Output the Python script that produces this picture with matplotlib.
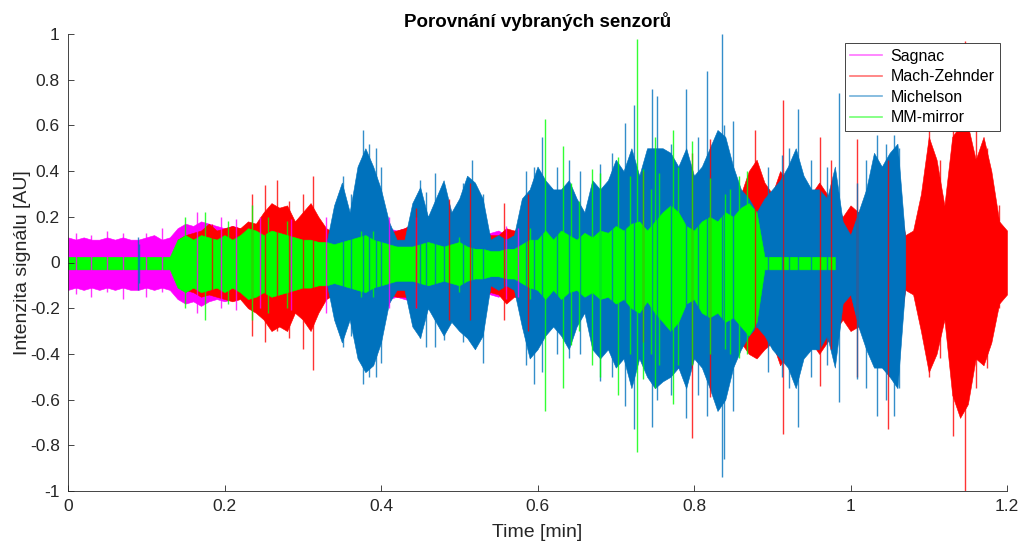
import numpy as np
import matplotlib
matplotlib.use("Agg")
import matplotlib.pyplot as plt
from matplotlib.lines import Line2D

plt.rcParams['font.family'] = ['Liberation Sans', 'DejaVu Sans']

# ---------------- data (envelopes, step 0.01 min) ----------------
series_names = ["Sagnac", "Mach-Zehnder", "Michelson", "MM-mirror"]
series_colors = ["#FF00FF", "#FF0000", "#0072BD", "#00FF00"]

# Sagnac: 0.00 .. 0.58
sagnac_start = 0.00
sagnac_top = [0.11, 0.10, 0.11, 0.10, 0.10, 0.11, 0.10, 0.11, 0.10, 0.10, 0.11, 0.12, 0.10, 0.11,
              0.15, 0.17, 0.16, 0.18, 0.17, 0.16, 0.15, 0.16, 0.15, 0.14, 0.15, 0.16, 0.17, 0.15, 0.14, 0.13, 0.14,
              0.14, 0.15, 0.13, 0.14, 0.15, 0.14, 0.13, 0.14, 0.15, 0.16, 0.15, 0.14, 0.15, 0.16, 0.17, 0.15,
              0.14, 0.13, 0.14, 0.13, 0.12, 0.13, 0.12, 0.13, 0.14, 0.12, 0.13, 0.12]
sagnac_bot = [-0.12, -0.11, -0.12, -0.11, -0.12, -0.11, -0.12, -0.11, -0.12, -0.12, -0.11, -0.12, -0.11, -0.12,
              -0.16, -0.18, -0.17, -0.19, -0.17, -0.16, -0.17, -0.16, -0.15, -0.16, -0.15, -0.17, -0.16, -0.15, -0.16, -0.15, -0.14,
              -0.15, -0.16, -0.14, -0.15, -0.16, -0.15, -0.14, -0.15, -0.16, -0.17, -0.16, -0.15, -0.16, -0.17, -0.18, -0.16,
              -0.15, -0.14, -0.15, -0.14, -0.13, -0.14, -0.13, -0.14, -0.15, -0.13, -0.14, -0.13]

# Mach-Zehnder: 0.14 .. 1.20
mz_start = 0.14
mz_top = [0.10, 0.12, 0.13, 0.14, 0.17, 0.14, 0.15, 0.16, 0.15, 0.18,
          0.17, 0.22, 0.26, 0.24, 0.25, 0.18, 0.22, 0.26, 0.20, 0.15,
          0.13, 0.12, 0.12, 0.12, 0.12, 0.13, 0.12, 0.13, 0.14, 0.15,
          0.17, 0.16, 0.15, 0.17, 0.20, 0.22, 0.18, 0.20, 0.18, 0.15,
          0.12, 0.12, 0.15, 0.14, 0.15, 0.18, 0.15, 0.14, 0.16, 0.18,
          0.20, 0.22, 0.20, 0.18, 0.20, 0.22, 0.20, 0.22, 0.25, 0.30,
          0.25, 0.22, 0.20, 0.22, 0.25, 0.30, 0.32, 0.28, 0.35, 0.30,
          0.25, 0.25, 0.30, 0.40, 0.45, 0.35, 0.30, 0.40, 0.35, 0.30,
          0.28, 0.30, 0.35, 0.30, 0.25, 0.20, 0.25, 0.22, 0.25, 0.30,
          0.35, 0.40, 0.30, 0.12, 0.14, 0.30, 0.55, 0.45, 0.25, 0.55,
          0.60, 0.60, 0.45, 0.55, 0.40, 0.18, 0.14]
mz_bot = [-0.10, -0.12, -0.13, -0.15, -0.14, -0.15, -0.16, -0.17, -0.16, -0.20,
          -0.22, -0.25, -0.30, -0.28, -0.30, -0.22, -0.25, -0.30, -0.22, -0.16,
          -0.14, -0.13, -0.13, -0.13, -0.13, -0.14, -0.13, -0.14, -0.15, -0.15,
          -0.16, -0.15, -0.15, -0.16, -0.17, -0.20, -0.18, -0.20, -0.18, -0.15,
          -0.13, -0.14, -0.18, -0.15, -0.16, -0.20, -0.16, -0.15, -0.18, -0.20,
          -0.22, -0.24, -0.22, -0.20, -0.22, -0.25, -0.22, -0.25, -0.28, -0.32,
          -0.28, -0.25, -0.22, -0.25, -0.30, -0.35, -0.38, -0.32, -0.40, -0.35,
          -0.30, -0.30, -0.35, -0.40, -0.42, -0.38, -0.35, -0.45, -0.40, -0.35,
          -0.32, -0.35, -0.40, -0.35, -0.30, -0.25, -0.30, -0.28, -0.32, -0.38,
          -0.45, -0.50, -0.35, -0.12, -0.14, -0.30, -0.48, -0.40, -0.25, -0.58,
          -0.68, -0.62, -0.42, -0.45, -0.35, -0.18, -0.14]

# Michelson: 0.33 .. 1.07
mi_start = 0.33
mi_top = [0.08, 0.25, 0.35, 0.22, 0.42, 0.50, 0.42, 0.32, 0.18, 0.10,
          0.10, 0.26, 0.33, 0.20, 0.28, 0.36, 0.22, 0.28, 0.38, 0.35,
          0.28, 0.10, 0.12, 0.10, 0.12, 0.28, 0.32, 0.42, 0.36, 0.32,
          0.32, 0.36, 0.28, 0.22, 0.36, 0.32, 0.36, 0.45, 0.40, 0.50,
          0.38, 0.50, 0.50, 0.50, 0.48, 0.42, 0.50, 0.38, 0.42, 0.50,
          0.58, 0.55, 0.42, 0.32, 0.28, 0.22, 0.28, 0.32, 0.36, 0.42,
          0.50, 0.38, 0.32, 0.32, 0.28, 0.42, 0.18, 0.12, 0.22, 0.32,
          0.48, 0.42, 0.48, 0.52, 0.10]
mi_bot = [-0.08, -0.25, -0.35, -0.25, -0.42, -0.48, -0.45, -0.35, -0.18, -0.12,
          -0.12, -0.28, -0.33, -0.20, -0.26, -0.32, -0.26, -0.30, -0.33, -0.38,
          -0.32, -0.10, -0.12, -0.10, -0.12, -0.28, -0.42, -0.38, -0.32, -0.28,
          -0.32, -0.38, -0.28, -0.22, -0.38, -0.42, -0.38, -0.46, -0.42, -0.55,
          -0.42, -0.50, -0.55, -0.52, -0.50, -0.46, -0.55, -0.42, -0.46, -0.55,
          -0.65, -0.60, -0.46, -0.38, -0.32, -0.28, -0.32, -0.38, -0.42, -0.46,
          -0.55, -0.42, -0.38, -0.38, -0.32, -0.46, -0.18, -0.14, -0.28, -0.38,
          -0.46, -0.46, -0.50, -0.55, -0.10]

# MM-mirror: 0.00 .. 0.98
mm_start = 0.00
mm_top = [0.025] * 14 + [
          0.10, 0.12, 0.10, 0.12, 0.11, 0.10, 0.12, 0.10, 0.12, 0.15,
          0.14, 0.12, 0.14, 0.13, 0.12, 0.11, 0.10, 0.10, 0.09, 0.09,
          0.08, 0.09, 0.10, 0.11, 0.12, 0.10, 0.09, 0.08, 0.07, 0.07,
          0.07, 0.08, 0.09, 0.08, 0.07, 0.08, 0.09, 0.07, 0.06, 0.06,
          0.05, 0.05, 0.06, 0.06, 0.08, 0.10,
          0.10, 0.14, 0.10, 0.14, 0.12, 0.10, 0.13, 0.11, 0.14, 0.13,
          0.16, 0.14, 0.17, 0.18, 0.14, 0.18, 0.22, 0.25, 0.22, 0.16,
          0.14, 0.18, 0.20, 0.18, 0.22, 0.20, 0.24, 0.26, 0.22] + [0.025] * 10
mm_bot = [-0.03] * 14 + [
          -0.11, -0.13, -0.11, -0.13, -0.12, -0.11, -0.13, -0.11, -0.13, -0.16,
          -0.15, -0.13, -0.15, -0.14, -0.13, -0.12, -0.11, -0.11, -0.10, -0.10,
          -0.09, -0.10, -0.11, -0.12, -0.13, -0.11, -0.10, -0.09, -0.08, -0.08,
          -0.08, -0.09, -0.10, -0.09, -0.08, -0.09, -0.10, -0.08, -0.07, -0.07,
          -0.06, -0.06, -0.07, -0.07, -0.09, -0.11,
          -0.12, -0.16, -0.12, -0.16, -0.13, -0.12, -0.15, -0.13, -0.16, -0.15,
          -0.18, -0.16, -0.20, -0.22, -0.17, -0.22, -0.26, -0.30, -0.26, -0.18,
          -0.16, -0.22, -0.24, -0.22, -0.26, -0.24, -0.28, -0.32, -0.26] + [-0.03] * 10

# isolated peaks (time, max, min)
sg_peaks_t = [0.01, 0.03, 0.05, 0.07, 0.10, 0.12, 0.165, 0.195, 0.215, 0.245, 0.285, 0.33, 0.41, 0.445, 0.56, 0.575]
sg_peaks_hi = [0.13, 0.12, 0.14, 0.13, 0.13, 0.15, 0.22, 0.20, 0.19, 0.20, 0.19, 0.20, 0.20, 0.20, 0.16, 0.15]
sg_peaks_lo = [-0.14, -0.15, -0.13, -0.16, -0.15, -0.13, -0.22, -0.20, -0.21, -0.20, -0.21, -0.22, -0.20, -0.20, -0.16, -0.15]

mz_peaks_t = [0.184, 0.235, 0.252, 0.267, 0.283, 0.300, 0.313, 0.445, 0.487, 0.514, 0.557, 0.588, 0.735,
              0.797, 0.820, 0.878, 0.914, 0.961, 0.975, 1.008, 1.048, 1.100, 1.115, 1.131, 1.146, 1.160, 1.175, 1.190]
mz_peaks_hi = [0.17, 0.30, 0.34, 0.36, 0.27, 0.30, 0.38, 0.24, 0.28, 0.35, 0.26, 0.30, 0.40,
               0.48, 0.54, 0.58, 0.71, 0.55, 0.45, 0.54, 0.45, 0.60, 0.45, 0.62, 0.97, 0.62, 0.50, 0.25]
mz_peaks_lo = [-0.13, -0.32, -0.35, -0.30, -0.33, -0.38, -0.47, -0.20, -0.25, -0.25, -0.25, -0.30, -0.35,
               -0.77, -0.59, -0.41, -0.75, -0.54, -0.38, -0.50, -0.73, -0.50, -0.42, -0.76, -1.00, -0.55, -0.46, -0.20]

mi_peaks_t = [0.089, 0.091, 0.352, 0.362, 0.377, 0.385, 0.393, 0.400, 0.450, 0.458, 0.469, 0.480,
              0.505, 0.516, 0.530, 0.585, 0.596, 0.606, 0.625, 0.640, 0.654, 0.680, 0.695,
              0.712, 0.723, 0.746, 0.753, 0.770, 0.790, 0.805, 0.816, 0.836, 0.838, 0.850,
              0.895, 0.912, 0.922, 0.933, 0.950, 0.970, 0.985, 1.008, 1.020, 1.034, 1.045, 1.055, 1.062]
mi_peaks_hi = [0.11, 0.08, 0.38, 0.30, 0.58, 0.52, 0.50, 0.42, 0.36, 0.31, 0.39, 0.33,
               0.35, 0.45, 0.30, 0.40, 0.42, 0.55, 0.42, 0.45, 0.40, 0.43, 0.48,
               0.61, 0.69, 0.76, 0.73, 0.52, 0.76, 0.55, 0.84, 1.00, 0.60, 0.62,
               0.42, 0.47, 0.50, 0.67, 0.45, 0.42, 0.74, 0.35, 0.45, 0.56, 0.52, 0.56, 0.50]
mi_peaks_lo = [-0.12, -0.09, -0.37, -0.32, -0.53, -0.50, -0.50, -0.44, -0.33, -0.37, -0.37, -0.34,
               -0.35, -0.30, -0.44, -0.45, -0.53, -0.48, -0.40, -0.42, -0.40, -0.52, -0.50,
               -0.63, -0.73, -0.72, -0.60, -0.58, -0.68, -0.58, -0.67, -0.94, -0.86, -0.65,
               -0.48, -0.50, -0.55, -0.72, -0.50, -0.45, -0.61, -0.51, -0.55, -0.67, -0.60, -0.67, -0.55]

mm_peaks_t = [0.150, 0.175, 0.205, 0.235, 0.255, 0.280, 0.375, 0.390, 0.500, 0.590,
              0.610, 0.633, 0.643, 0.653, 0.670, 0.680, 0.703, 0.718, 0.727, 0.735,
              0.745, 0.750, 0.755, 0.773, 0.780, 0.797, 0.820, 0.840, 0.846, 0.858, 0.868]
mm_peaks_hi = [0.20, 0.22, 0.18, 0.25, 0.20, 0.18, 0.14, 0.14, 0.11, 0.15,
               0.63, 0.51, 0.35, 0.27, 0.41, 0.39, 0.46, 0.38, 0.98, 0.41,
               0.32, 0.55, 0.39, 0.58, 0.42, 0.53, 0.37, 0.30, 0.32, 0.38, 0.40]
mm_peaks_lo = [-0.20, -0.25, -0.18, -0.25, -0.22, -0.20, -0.15, -0.15, -0.13, -0.16,
               -0.65, -0.55, -0.36, -0.30, -0.45, -0.50, -0.58, -0.40, -0.83, -0.51,
               -0.40, -0.55, -0.45, -0.62, -0.45, -0.45, -0.40, -0.38, -0.40, -0.42, -0.40]

x_ticks = [0, 0.2, 0.4, 0.6, 0.8, 1.0, 1.2]
x_tick_labels = ["0", "0.2", "0.4", "0.6", "0.8", "1", "1.2"]
y_ticks = [-1, -0.8, -0.6, -0.4, -0.2, 0, 0.2, 0.4, 0.6, 0.8, 1]
y_tick_labels = ["-1", "-0.8", "-0.6", "-0.4", "-0.2", "0", "0.2", "0.4", "0.6", "0.8", "1"]

# ---------------- plotting ----------------
fig = plt.figure(figsize=(10.24, 5.44), dpi=100)
ax = fig.add_axes([68 / 1024, 1 - 491 / 544, 939 / 1024, 457 / 544])

def tgrid(start, vals):
    return start + 0.01 * np.arange(len(vals))

envs = [(sagnac_start, sagnac_top, sagnac_bot),
        (mz_start, mz_top, mz_bot),
        (mi_start, mi_top, mi_bot),
        (mm_start, mm_top, mm_bot)]
peaks = [(sg_peaks_t, sg_peaks_hi, sg_peaks_lo),
         (mz_peaks_t, mz_peaks_hi, mz_peaks_lo),
         (mi_peaks_t, mi_peaks_hi, mi_peaks_lo),
         (mm_peaks_t, mm_peaks_hi, mm_peaks_lo)]

for (start, top, bot), pk, col in zip(envs, peaks, series_colors):
    t = tgrid(start, top)
    ax.fill_between(t, bot, top, color=col, lw=0.4, edgecolor=col, alpha=1.0)
    ax.vlines(pk[0], pk[2], pk[1], color=col, lw=1.0, alpha=0.8)

ax.set_xlim(0, 1.2)
ax.set_ylim(-1, 1)
ax.set_xticks(x_ticks)
ax.set_xticklabels(x_tick_labels)
ax.set_yticks(y_ticks)
ax.set_yticklabels(y_tick_labels)

dark = "#262626"
for s in ["top", "right"]:
    ax.spines[s].set_visible(False)
for s in ["left", "bottom"]:
    ax.spines[s].set_color(dark)
    ax.spines[s].set_linewidth(0.6)
ax.tick_params(direction="in", length=4, width=0.6, colors=dark, labelsize=12.5, pad=6)

ax.set_xlabel("Time [min]", fontsize=14, color=dark, labelpad=7)
ax.set_ylabel("Intenzita signálu [AU]", fontsize=14, color=dark, labelpad=-1)
ax.set_title("Porovnání vybraných senzorů", fontsize=13.5, fontweight="bold", color="black", pad=5)

handles = [Line2D([0], [0], color=c, lw=1.2, alpha=0.55) for c in series_colors]
leg = ax.legend(handles, series_names, loc="upper right",
                bbox_to_anchor=((1000 - 68) / 939, (491 - 43) / 457),
                borderaxespad=0, fontsize=11.5, frameon=True, fancybox=False,
                handlelength=2.0, handletextpad=0.5, labelspacing=0.35,
                borderpad=0.35)
leg.get_frame().set_edgecolor("#262626")
leg.get_frame().set_linewidth(0.6)
leg.get_frame().set_facecolor("white")
leg.get_frame().set_alpha(1.0)
leg.set_zorder(10)

fig.savefig("out.png", dpi=100)
